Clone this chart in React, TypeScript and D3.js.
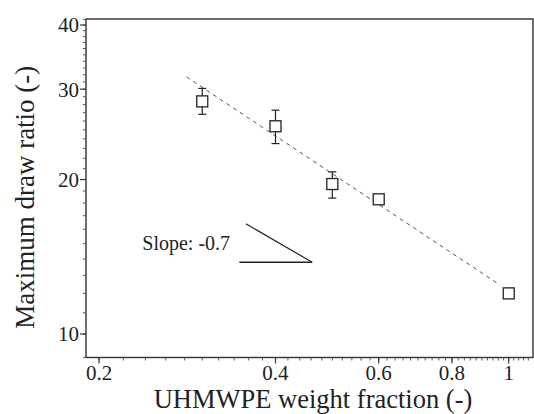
import React from "react";
import * as d3 from "d3";

// ---- data ----
const fractions = [0.3, 0.4, 0.5, 0.6, 1.0];
const drawRatio = [28.4, 25.4, 19.6, 18.3, 12.0];
const errLow = [26.8, 23.5, 18.4, 18.0, 11.8];
const errHigh = [30.1, 27.3, 20.7, 18.6, 12.2];

const fitX = [0.282, 0.962];
const fitY = [31.7, 12.5];

const slopeHypX = [0.356, 0.462];
const slopeHypY = [16.4, 13.8];
const slopeBaseX = [0.347, 0.462];
const slopeLabel = "Slope: -0.7";

const xTicks = [0.2, 0.4, 0.6, 0.8, 1];
const xTickLabels = ["0.2", "0.4", "0.6", "0.8", "1"];
const yTicks = [10, 20, 30, 40];
const yTickLabels = ["10", "20", "30", "40"];
const xDomain = [0.19, 1.1];
const yDomain = [9, 41.1];

const xTitle = "UHMWPE weight fraction (-)";
const yTitle = "Maximum draw ratio (-)";

export default function App() {
  const W = 534, H = 414;
  const left = 86, right = 533, top = 19, bottom = 357.5;
  const x = d3.scaleLog().domain(xDomain).range([left, right]);
  const y = d3.scaleLog().domain(yDomain).range([bottom, top]);

  const xMinor = d3.range(0.2, 1.09, 0.02).map((v) => +v.toFixed(2));
  const yMinor = d3.range(9, 42, 1);

  const font = "'Liberation Serif', 'Times New Roman', serif";
  const ink = "#222";
  const line = d3.line<[number, number]>().x((d) => x(d[0])).y((d) => y(d[1]));

  return (
    <svg width={W} height={H} style={{ position: "absolute", left: 0, top: 0, background: "#fff" }} fontFamily={font}>
      <rect x={0} y={0} width={W} height={H} fill="#fff" />
      {/* frame */}
      <rect x={left} y={top} width={right - left} height={bottom - top} fill="none" stroke="#333" strokeWidth={1.4} />
      {/* y minor ticks */}
      {yMinor.map((v) => (
        <line key={"ym" + v} x1={left - 3} x2={left} y1={y(v)} y2={y(v)} stroke="#555" strokeWidth={1} />
      ))}
      {yTicks.map((v, i) => (
        <g key={"yt" + v}>
          <line x1={left - 6} x2={left} y1={y(v)} y2={y(v)} stroke="#333" strokeWidth={1.2} />
          <text x={left - 7} y={y(v)} dy="0.35em" textAnchor="end" fontSize={21} fill={ink}>
            {yTickLabels[i]}
          </text>
        </g>
      ))}
      {/* x minor ticks */}
      {xMinor.map((v) => (
        <line key={"xm" + v} x1={x(v)} x2={x(v)} y1={bottom} y2={bottom + 3} stroke="#555" strokeWidth={1} />
      ))}
      {xTicks.map((v, i) => (
        <g key={"xt" + v}>
          <line x1={x(v)} x2={x(v)} y1={bottom} y2={bottom + 6} stroke="#333" strokeWidth={1.2} />
          <text x={x(v)} y={bottom + 22} textAnchor="middle" fontSize={21} fill={ink}>
            {xTickLabels[i]}
          </text>
        </g>
      ))}
      {/* fit line */}
      <path
        d={line(fitX.map((v, i) => [v, fitY[i]]) as [number, number][]) || ""}
        fill="none"
        stroke="#555"
        strokeWidth={1}
        strokeDasharray="4,4"
      />
      {/* slope triangle */}
      <path
        d={line(slopeHypX.map((v, i) => [v, slopeHypY[i]]) as [number, number][]) || ""}
        fill="none"
        stroke="#222"
        strokeWidth={1.2}
      />
      <line
        x1={x(slopeBaseX[0])}
        x2={x(slopeBaseX[1])}
        y1={y(slopeHypY[1])}
        y2={y(slopeHypY[1])}
        stroke="#222"
        strokeWidth={1.4}
      />
      <text x={x(slopeBaseX[0]) - 97} y={y(slopeHypY[1]) - 12} fontSize={20} fill={ink}>
        {slopeLabel}
      </text>
      {/* error bars and markers */}
      {fractions.map((f, i) => {
        const cx = x(f);
        return (
          <g key={"p" + i} stroke="#222" fill="none">
            <line x1={cx} x2={cx} y1={y(errLow[i])} y2={y(errHigh[i])} strokeWidth={1.2} />
            <line x1={cx - 4} x2={cx + 4} y1={y(errLow[i])} y2={y(errLow[i])} strokeWidth={1.2} />
            <line x1={cx - 4} x2={cx + 4} y1={y(errHigh[i])} y2={y(errHigh[i])} strokeWidth={1.2} />
            <rect x={cx - 5.5} y={y(drawRatio[i]) - 5.5} width={11} height={11} fill="#fff" strokeWidth={1.3} />
          </g>
        );
      })}
      {/* axis titles */}
      <text x={313} y={407.5} textAnchor="middle" fontSize={26.5} fill={ink}>
        {xTitle}
      </text>
      <text transform={`translate(34,${(top + bottom) / 2 + 9}) rotate(-90)`} textAnchor="middle" fontSize={27} fill={ink}>
        {yTitle}
      </text>
    </svg>
  );
}
